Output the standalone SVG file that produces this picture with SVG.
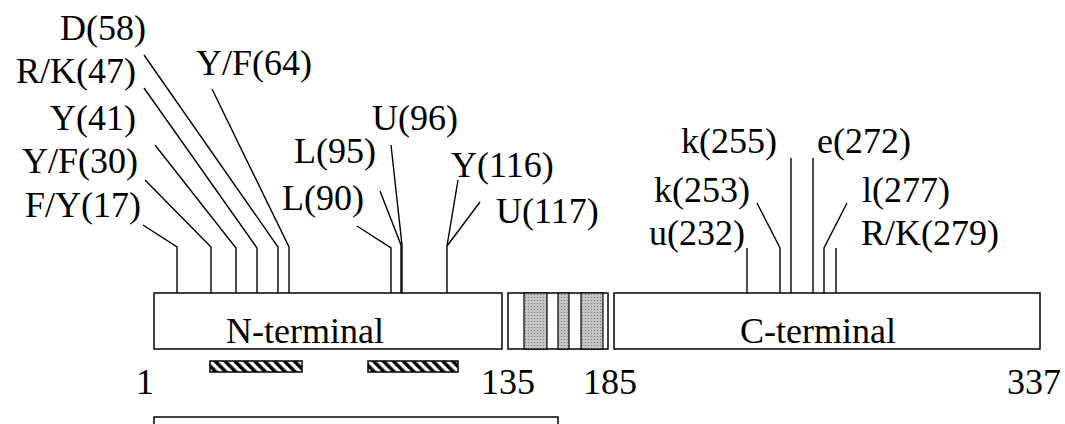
<svg xmlns="http://www.w3.org/2000/svg" width="1065" height="424" viewBox="0 0 1065 424">
<style>
text{font-size:36px;fill:#000}
.e{text-anchor:end}
.ln{fill:none;stroke:#000;stroke-width:1.4}
.box{fill:#fff;stroke:#000;stroke-width:1.5}
.band{fill:url(#stip);stroke:#000;stroke-width:1.2}
.hat{fill:url(#hatch);stroke:#000;stroke-width:1.5}
</style>
<defs>
<pattern id="hatch" patternUnits="userSpaceOnUse" width="7" height="7" patternTransform="rotate(-45)">
<rect width="7" height="7" fill="#fff"/>
<rect width="3.5" height="7" fill="#000"/>
</pattern>
<pattern id="stip" patternUnits="userSpaceOnUse" width="3" height="3">
<rect width="3" height="3" fill="#c4c4c4"/>
<rect width="1" height="1" fill="#777"/>
</pattern>
</defs>
<g id="connectors">
<polyline class="ln" points="143,225 177,247 177,293"/>
<polyline class="ln" points="145,180 211,247 211,293"/>
<polyline class="ln" points="155,145 236,248 236,293"/>
<polyline class="ln" points="144,88 257,248 257,293"/>
<polyline class="ln" points="144,55 278,247 278,293"/>
<polyline class="ln" points="212,89 289,247 289,293"/>
<polyline class="ln" points="357,226 391,248 391,293"/>
<polyline class="ln" points="380,191 401,245 401,293"/>
<polyline class="ln" points="391,145 402,245 402,293"/>
<polyline class="ln" points="458,180 447,246 447,293"/>
<polyline class="ln" points="480,202 447,246"/>
<polyline class="ln" points="747,248 747,293"/>
<polyline class="ln" points="757,203 780,248 780,293"/>
<polyline class="ln" points="791,158 791,293"/>
<polyline class="ln" points="813,158 813,293"/>
<polyline class="ln" points="847,203 824,248 824,293"/>
<polyline class="ln" points="836,248 836,293"/>
</g>
<g font-family="Liberation Serif, Times New Roman, DejaVu Serif, serif">
<g id="n-terminal">
<rect class="box" x="154" y="293" width="348" height="56"/>
<text x="226" y="343">N-terminal</text>
</g>
<g id="tm-domain">
<rect class="box" x="508" y="293" width="100" height="56"/>
<rect class="band" x="524" y="293" width="23" height="56"/>
<rect class="band" x="558" y="293" width="11" height="56"/>
<rect class="band" x="581" y="293" width="22" height="56"/>
</g>
<g id="c-terminal">
<rect class="box" x="614" y="293" width="426" height="56"/>
<text x="740" y="343">C-terminal</text>
</g>
<g id="hatched-1"><rect class="hat" x="210" y="361" width="92" height="11"/></g>
<g id="hatched-2"><rect class="hat" x="368" y="361" width="90" height="11"/></g>
<g id="bottom-box"><rect class="box" x="154" y="417" width="404" height="20"/></g>
<g id="labels">
<text class="e" x="146" y="40">D(58)</text>
<text class="e" x="136" y="83">R/K(47)</text>
<text x="196" y="75">Y/F(64)</text>
<text class="e" x="136" y="130">Y(41)</text>
<text class="e" x="138" y="173">Y/F(30)</text>
<text class="e" x="141" y="217">F/Y(17)</text>
<text class="e" x="376" y="163">L(95)</text>
<text class="e" x="364" y="210">L(90)</text>
<text x="372" y="130">U(96)</text>
<text x="451" y="177">Y(116)</text>
<text x="496" y="223">U(117)</text>
<text x="681" y="153">k(255)</text>
<text x="817" y="153">e(272)</text>
<text x="654" y="202">k(253)</text>
<text x="862" y="202">l(277)</text>
<text x="649" y="245">u(232)</text>
<text x="861" y="245">R/K(279)</text>
<text x="136" y="394">1</text>
<text x="481" y="394">135</text>
<text x="583" y="394">185</text>
<text class="e" x="1061" y="394">337</text>
</g>
</g>
</svg>
